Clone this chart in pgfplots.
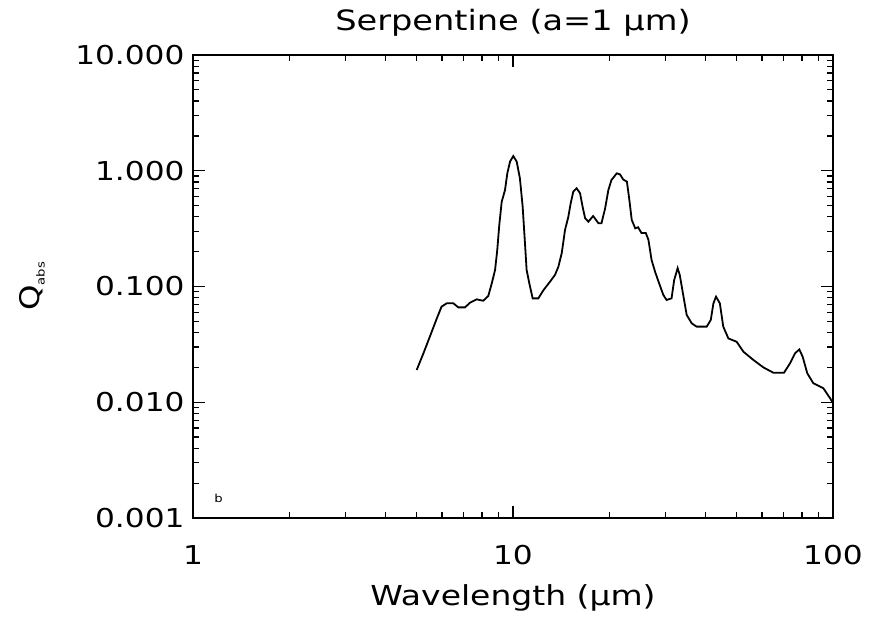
\documentclass[border=0pt]{standalone}
\usepackage{pgfplots}
\pgfplotsset{compat=1.18}
\usepackage{pgfplotstable}
\usepackage{fontspec}
\setmainfont[FakeStretch=1.2]{DejaVu Sans}

% Absorption efficiency of serpentine grains, a = 1 micron
\pgfplotstableread{
lambda  qabs
5.00  0.019
5.25  0.0265
5.50  0.037
5.78  0.053
5.98  0.067
6.21  0.0716
6.51  0.0716
6.75  0.066
7.08  0.066
7.34  0.0725
7.70  0.0775
8.07  0.0753
8.37  0.0828
8.58  0.106
8.79  0.139
8.93  0.207
9.06  0.34
9.22  0.54
9.44  0.68
9.60  0.95
9.79  1.20
10.02 1.34
10.27 1.20
10.51 0.86
10.72 0.49
10.90 0.236
11.03 0.139
11.25 0.106
11.52 0.079
12.0  0.079
12.45 0.093
13.05 0.110
13.53 0.126
13.86 0.148
14.2  0.194
14.54 0.308
14.89 0.40
15.14 0.52
15.43 0.66
15.81 0.705
16.2  0.64
16.5  0.49
16.8  0.39
17.2  0.363
17.8  0.406
18.5  0.352
18.9  0.352
19.4  0.47
19.86 0.68
20.3  0.83
21.1  0.95
21.6  0.93
22.1  0.84
22.7  0.805
23.1  0.56
23.5  0.376
24.1  0.318
24.6  0.325
25.2  0.29
26.0  0.29
26.5  0.253
27.1  0.170
27.8  0.134
28.5  0.110
29.5  0.0845
30.2  0.0765
31.3  0.079
31.9  0.114
32.7  0.144
33.2  0.126
34.1  0.082
34.9  0.0568
36.2  0.048
37.5  0.045
40.3  0.045
41.5  0.0514
42.3  0.0716
43.1  0.0817
44.3  0.0716
45.4  0.045
47.1  0.0356
50.0  0.0333
52.5  0.0273
56.4  0.0232
60.6  0.020
65.1  0.018
70.3  0.018
73.4  0.0217
76.1  0.0265
78.5  0.0286
80.4  0.0247
83.1  0.0178
86.8  0.0146
93.3  0.0132
98.0  0.0108
100   0.0098
}\serpentine

\begin{document}
\begin{tikzpicture}
\useasboundingbox (-193pt,-108pt) rectangle (685pt,518pt);
\begin{axis}[
  scale only axis,
  width=640pt, height=463pt,
  xmode=log, ymode=log,
  xmin=1, xmax=100, ymin=0.001, ymax=10,
  axis line style={line width=1.6pt},
  tick style={line width=1.3pt, black},
  major tick length=12pt,
  minor tick length=6pt,
  tick align=inside,
  xtick={1,10,100},
  xticklabels={1,10,100},
  ytick={0.001,0.01,0.1,1,10},
  yticklabels={0.001,0.010,0.100,1.000,10.000},
  /pgf/number format/assume math mode=true,
  ticklabel style={font=\fontsize{26}{30}\selectfont},
  xticklabel style={yshift=-24pt},
  yticklabel style={xshift=-5pt},
  title={Serpentine (a=1 μm)},
  title style={font=\fontsize{28}{32}\selectfont, at={(axis description cs:0.5,1)}, anchor=base, yshift=18pt},
  xlabel={Wavelength (μm)},
  xlabel style={font=\fontsize{27.5}{32}\selectfont, at={(axis description cs:0.5,0)}, anchor=base, yshift=-87pt},
  ylabel={Q\raisebox{-0.2em}{\fontsize{11}{12}\selectfont abs}},
  ylabel style={font=\fontsize{27}{32}\selectfont, at={(axis description cs:0,0.5)}, anchor=center, yshift=161pt},
  clip=true,
]
\addplot[black, line width=1.8pt] table[x=lambda, y=qabs] {\serpentine};
\node[font=\fontsize{11}{12}\selectfont] at (rel axis cs:0.04,0.043) {b};
\end{axis}
\end{tikzpicture}
\end{document}
